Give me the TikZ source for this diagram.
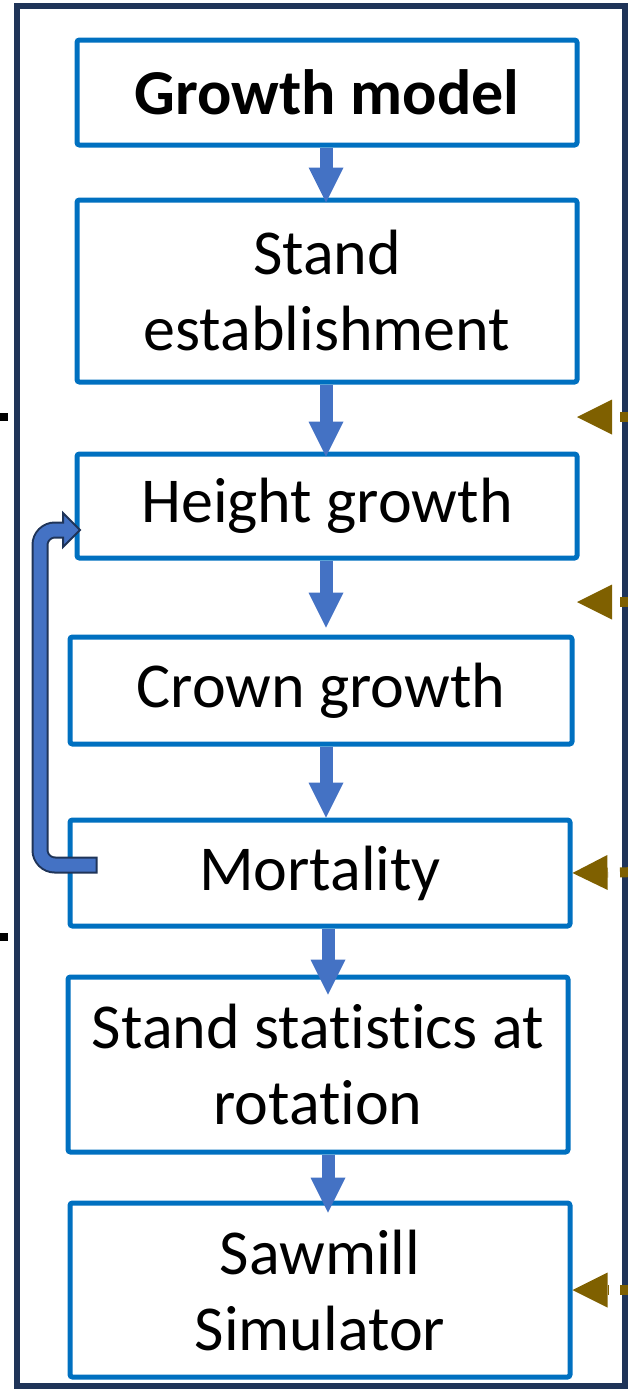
\documentclass[tikz,border=0pt]{standalone}
\usepackage{fontspec}
\setmainfont{Carlito}[Ligatures=NoCommon]
\usetikzlibrary{arrows.meta,calc}
\definecolor{boxblue}{HTML}{0070C0}
\definecolor{arrblue}{HTML}{4472C4}
\definecolor{navy}{HTML}{1F3458}
\definecolor{olive}{HTML}{7F6000}
\begin{document}
\begin{tikzpicture}[x=1pt,y=-1pt,
  stepbox/.style={draw=boxblue, line width=5pt, rounded corners=2.5pt, fill=white, align=center, inner sep=0pt, font=\fontsize{64}{76}\selectfont},
  flow/.style={draw=arrblue, line width=13pt, -{Triangle[width=35pt,length=35pt,line width=0pt]}},
  feed/.style={draw=olive, line width=10pt, dash pattern=on 24pt off 12pt, -{Triangle[width=35pt,length=35pt,line width=0pt]}},
  frame/.style={draw=navy, line width=6pt},
  tick/.style={draw=black, line width=8pt},
  loopouter/.style={draw=navy, line width=17pt, rounded corners=15pt},
  loopinner/.style={draw=arrblue, line width=13pt, rounded corners=15pt},
  loophead/.style={fill=arrblue, draw=navy, line width=2pt, line join=miter},
]
\useasboundingbox (0,0) rectangle (628,1390);
\clip (0,0) rectangle (628,1390);
\draw[frame] (17,6) rectangle (625,1386);

% left ticks
\coordinate (t1a) at (0,417); \coordinate (t1b) at (8,417);
\coordinate (t2a) at (0,937); \coordinate (t2b) at (8,937);
\draw[tick] (t1a) -- (t1b);
\draw[tick] (t2a) -- (t2b);

% boxes
\node[stepbox, minimum width=500pt, minimum height=105pt, font=\fontsize{64}{76}\selectfont\bfseries] (b1) at (327,92.5) {Growth model};
\node[stepbox, minimum width=500pt, minimum height=182pt] (b2) at (327,291) {Stand\\establishment};
\node[stepbox, minimum width=500pt, minimum height=104pt] (b3) at (327,506) {Height growth};
\node[stepbox, minimum width=502pt, minimum height=107pt] (b4) at (321,690.5) {Crown growth};
\node[stepbox, minimum width=500pt, minimum height=106pt] (b5) at (320,873) {Mortality};
\node[stepbox, minimum width=500pt, minimum height=175pt] (b6) at (318,1064.5) {Stand statistics at\\rotation};
\node[stepbox, minimum width=500pt, minimum height=174pt] (b7) at (320,1290) {Sawmill\\Simulator};

% flow arrows
\coordinate (ax) at (326,0);
\coordinate (ay) at (328,0);
\draw[flow, shorten >=-5pt] (b1.south -| ax) -- (b2.north -| ax);
\draw[flow, shorten >=-5pt] (b2.south -| ax) -- (b3.north -| ax);
\draw[flow, shorten >=7pt] (b3.south -| ax) -- (b4.north -| ax);
\draw[flow] (b4.south -| ax) -- (b5.north -| ax);
\draw[flow, shorten >=-20pt] (b5.south -| ay) -- (b6.north -| ay);
\draw[flow, shorten >=-12pt] (b6.south -| ay) -- (b7.north -| ay);

% loop arrow from Mortality back to Height growth
\coordinate (ls) at ($(b5.west)+(28,-8)$);
\coordinate (lt) at ($(b3.west)+(5.5,24)$);
\coordinate (lx) at (40,0);
\draw[loopouter] ($(ls)+(2,0)$) -- (ls -| lx) -- (lt -| lx) -- ($(lt)+(-16,0)$);
\draw[loophead] (lt) -- ($(lt)+(-17,-17)$) -- ($(lt)+(-17,17)$) -- cycle;
\draw[loopinner] (ls) -- (ls -| lx) -- (lt -| lx) -- ($(lt)+(-15,0)$);

% feedback arrows from the right
\coordinate (f1s) at (644,417); \coordinate (f1t) at (577,417);
\coordinate (f2s) at (644,602); \coordinate (f2t) at (577,602);
\coordinate (f3s) at (644,872);
\coordinate (f4s) at (644,1290);
\draw[feed] (f1s) -- (f1t);
\draw[feed] (f2s) -- (f2t);
\draw[feed] (f3s) -- (b5.east);
\draw[feed] (f4s) -- (b7.east);
\end{tikzpicture}
\end{document}
